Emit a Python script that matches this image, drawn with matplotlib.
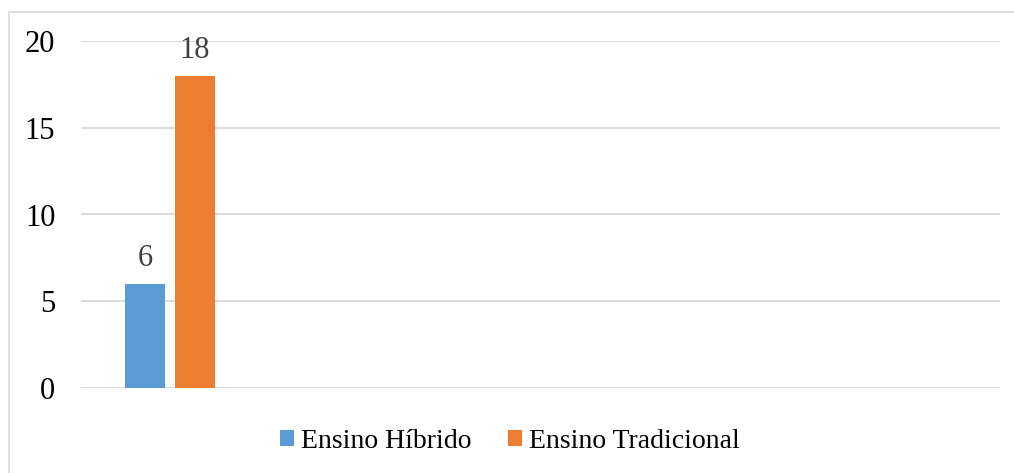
import matplotlib
matplotlib.use("Agg")
import matplotlib.pyplot as plt
from matplotlib.patches import Rectangle
import numpy as np

# Data
categories = [""]
series_names = ["Ensino Híbrido", "Ensino Tradicional"]
hibrido = [6]
tradicional = [18]
y_ticks = [0, 5, 10, 15, 20]

colors = ["#5b9bd5", "#ed7d31"]
grid_color = "#d9d9d9"

plt.rcParams["font.family"] = ["Liberation Serif", "DejaVu Serif"]

W, H = 1014, 473
fig = plt.figure(figsize=(W / 100, H / 100), dpi=100)

# Outer chart-area frame (extends past the right and bottom edges)
fig.patches.append(Rectangle((8.5 / W, -0.1), 1.2, (H - 12.5) / H + 0.1,
                             transform=fig.transFigure, fill=False,
                             edgecolor=grid_color, linewidth=1.2))

ax = fig.add_axes([81 / W, (H - 388) / H, (1000 - 81) / W, (388 - 41) / H])

x = np.arange(len(categories))
bw = 40 / 178
gap = 10 / 178
b1 = ax.bar(x - (bw + gap) / 2, hibrido, width=bw, color=colors[0],
            label=series_names[0], zorder=3)
b2 = ax.bar(x + (bw + gap) / 2, tradicional, width=bw, color=colors[1],
            label=series_names[1], zorder=3)

for bars in (b1, b2):
    for r in bars:
        ax.annotate(f"{r.get_height():g}",
                    (r.get_x() + r.get_width() / 2, r.get_height()),
                    xytext=(0, 13), textcoords="offset points",
                    ha="center", va="baseline", fontsize=22, color="#404040")

ax.set_xlim(-0.5, -0.5 + 918 / 178)
ax.set_ylim(0, 20)
ax.set_yticks(y_ticks)
ax.set_xticks([])
ax.tick_params(axis="y", length=0, pad=18.5, labelsize=22, labelcolor="black")
ax.yaxis.grid(True, color=grid_color, linewidth=1.3, zorder=0)
ax.set_axisbelow(True)
for s in ax.spines.values():
    s.set_visible(False)

fig.legend(handles=[b1, b2], loc="center", bbox_to_anchor=(510 / W, (H - 441) / H),
           ncol=2, frameon=False, fontsize=20, handlelength=0.5,
           handleheight=0.5, handletextpad=0.25, columnspacing=1.3,
           borderaxespad=0, borderpad=0)

fig.savefig("out.png", dpi=100)
